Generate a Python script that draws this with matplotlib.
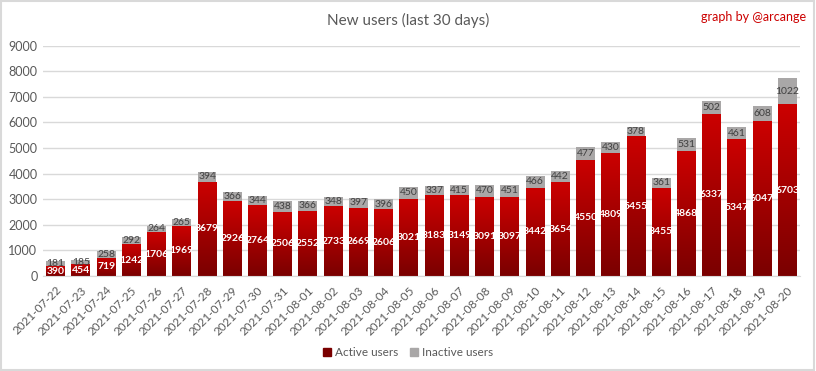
import matplotlib
matplotlib.use('Agg')
import matplotlib.pyplot as plt
import numpy as np
from matplotlib.colors import LinearSegmentedColormap
from matplotlib.patches import Rectangle

dates = ["2021-07-22", "2021-07-23", "2021-07-24", "2021-07-25", "2021-07-26",
         "2021-07-27", "2021-07-28", "2021-07-29", "2021-07-30", "2021-07-31",
         "2021-08-01", "2021-08-02", "2021-08-03", "2021-08-04", "2021-08-05",
         "2021-08-06", "2021-08-07", "2021-08-08", "2021-08-09", "2021-08-10",
         "2021-08-11", "2021-08-12", "2021-08-13", "2021-08-14", "2021-08-15",
         "2021-08-16", "2021-08-17", "2021-08-18", "2021-08-19", "2021-08-20"]
active = [390, 454, 719, 1242, 1706, 1969, 3679, 2926, 2764, 2506,
          2552, 2733, 2669, 2606, 3021, 3183, 3149, 3091, 3097, 3442,
          3654, 4550, 4809, 5455, 3455, 4868, 6337, 5347, 6047, 6703]
inactive = [181, 185, 258, 292, 264, 265, 394, 366, 344, 438,
            366, 348, 397, 396, 450, 337, 415, 470, 451, 466,
            442, 477, 430, 378, 361, 531, 502, 461, 608, 1022]
yticks = [0, 1000, 2000, 3000, 4000, 5000, 6000, 7000, 8000, 9000]

plt.rcParams['font.family'] = ['Lato', 'DejaVu Sans']

fig = plt.figure(figsize=(8.16, 3.71), dpi=100)
ax = fig.add_axes([43 / 816, 95 / 371, 757 / 816, 230.4 / 371])

x = np.arange(len(dates))
w = 0.75
grey = "#a9a7a7"
dark = "#7a0000"
bright = "#cc0000"
cmap = LinearSegmentedColormap.from_list("redgrad", [dark, bright])

bars = ax.bar(x, active, w, color=bright, zorder=2, label="Active users")
ax.bar(x, inactive, w, bottom=active, color=grey, zorder=2, label="Inactive users")

# vertical gradient in each active bar
grad = np.linspace(0, 1, 256).reshape(-1, 1)
for b in bars:
    x0, y0 = b.get_x(), b.get_y()
    im = ax.imshow(grad, cmap=cmap, origin='lower', aspect='auto',
                   extent=(x0, x0 + b.get_width(), y0, y0 + b.get_height()),
                   zorder=2.5)
    im.set_clip_path(b)

for i in range(len(dates)):
    ax.text(x[i], active[i] / 2, str(active[i]), ha='center', va='center',
            color='white', fontsize=7.5, fontweight='bold', zorder=4)
    ax.text(x[i], active[i] + inactive[i] / 2, str(inactive[i]), ha='center',
            va='center', color='#404040', fontsize=7.5, zorder=4)

ax.set_xlim(-0.5, len(dates) - 0.5)
ax.set_ylim(0, 9000)
ax.set_yticks(yticks)
ax.set_yticklabels([str(v) for v in yticks], fontsize=9, color='#595959')
ax.set_xticks(x)
ax.set_xticklabels(dates, rotation=45, ha='right', rotation_mode='anchor',
                   fontsize=8.5, color='#595959')
ax.tick_params(length=0, pad=4)
ax.tick_params(axis='x', pad=6)
ax.grid(axis='y', color='#d9d9d9', lw=1, zorder=0)
for s in ['top', 'right', 'left']:
    ax.spines[s].set_visible(False)
ax.spines['bottom'].set_color('#d9d9d9')
ax.set_axisbelow(True)

fig.text(0.5, 0.945, "New users (last 30 days)", ha='center', va='center',
         fontsize=11, color='#595959')
fig.text(0.988, 0.955, "graph by @arcange", ha='right', va='center',
         fontsize=9, color='#cc0000')

h1 = Rectangle((0, 0), 1, 1, color=dark)
h2 = Rectangle((0, 0), 1, 1, color=grey)
fig.legend([h1, h2], ["Active users", "Inactive users"], loc='center',
           bbox_to_anchor=(0.5, 0.05), ncol=2, frameon=False, fontsize=8.5,
           handlelength=0.7, handleheight=0.7, handletextpad=0.3,
           columnspacing=1.0, labelcolor='#595959')

fig.patches.append(Rectangle((0.001, 0.002), 0.997, 0.995, transform=fig.transFigure,
                             fill=False, edgecolor='#d9d9d9', lw=1.5))

plt.savefig("out.png", dpi=100)
